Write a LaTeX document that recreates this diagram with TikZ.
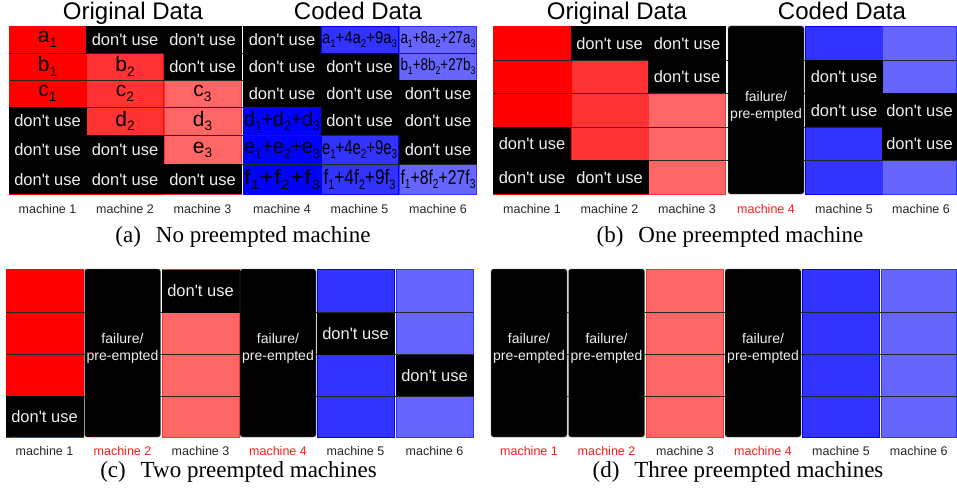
\documentclass[tikz,border=0pt]{standalone}
\usepackage{fontspec}
\setmainfont{Liberation Serif}
\setsansfont{Liberation Sans}
\usepackage{graphicx}
\usetikzlibrary{calc}

\definecolor{redA}{HTML}{FF0000}
\definecolor{redB}{HTML}{FF3333}
\definecolor{redC}{HTML}{FF6666}
\definecolor{blueA}{HTML}{0000FF}
\definecolor{blueB}{HTML}{3333FF}
\definecolor{blueC}{HTML}{6666FF}
\definecolor{offwhite}{HTML}{EEEEEE}
\definecolor{redlab}{HTML}{FF1A1A}

\newcommand{\sq}[2]{\resizebox{#1}{\height}{#2}}
\newcommand{\sbs}[1]{\raisebox{-0.22em}{\scalebox{0.65}{#1}}}
\newcommand{\dont}{don\textquotesingle t use}

\tikzset{
	colbox/.style={minimum width=77pt, minimum height=168pt, inner sep=0pt, line width=0.8pt},
	dontuse/.style={fill=black, text=offwhite, inner sep=0pt, minimum width=78pt, font=\fontsize{16.5}{18}\selectfont\sffamily},
	failbox/.style={fill=black, draw=black!55, rounded corners=2.5pt, minimum width=76pt, minimum height=168pt, inner sep=0pt},
	failtxt/.style={text=offwhite, align=center, inner sep=0pt, font=\fontsize{14}{17}\selectfont\sffamily},
	rowline/.style={draw=black!85, line width=0.7pt},
	datatxt/.style={inner sep=0pt, font=\fontsize{21}{24}\selectfont\sffamily},
	mlabel/.style={anchor=base, inner sep=0pt, font=\fontsize{12.5}{14}\selectfont\sffamily, text=black!85},
	headtxt/.style={anchor=base, inner sep=0pt, font=\fontsize{24}{28}\selectfont\sffamily},
	subcap/.style={anchor=base, inner sep=0pt, font=\fontsize{23}{27}\selectfont}
}

\begin{document}
\begin{tikzpicture}[x=1pt, y=-1pt]
	\useasboundingbox (0,0) rectangle (957,497);

	%(a) headings
	\node[headtxt] (a-orig) at (133,20) {Original Data};
	\node[headtxt] (a-code) at (358,20) {Coded Data};

	%(a) machine columns
	\node[colbox, fill=redA, draw=redA]   (a-m1) at (47.5,110) {};
	\node[colbox, fill=redB, draw=redA]   (a-m2) at (125,110) {};
	\node[colbox, fill=redC, draw=redB]   (a-m3) at (202.5,110) {};
	\node[colbox, fill=blueA, draw=blueA] (a-m4) at (282,110) {};
	\node[colbox, fill=blueB, draw=blueA] (a-m5) at (359.5,110) {};
	\node[colbox, fill=blueC, draw=blueB] (a-m6) at (438,110) {};

		%(a) row lines
		\foreach \y in {53,80,107,135,164.5}
			\draw[rowline] (9,\y) -- (477,\y);

	%(a) machine 1
	\node[datatxt] (a-m1-r1) at (47.5,39.5) {a\sbs{1}};
	\node[datatxt] (a-m1-r2) at (47.5,66.5) {b\sbs{1}};
	\node[datatxt] (a-m1-r3) at (47.5,93.5) {c\sbs{1}};
	\node[dontuse, minimum height=28pt]   (a-m1-r4) at (47.5,121)    {\dont};
	\node[dontuse, minimum height=29.5pt] (a-m1-r5) at (47.5,149.75) {\dont};
	\node[dontuse, minimum height=29.5pt] (a-m1-r6) at (47.5,179.25) {\dont};

	%(a) machine 2
	\node[dontuse, minimum height=27pt] (a-m2-r1) at (125,39.5) {\dont};
	\node[datatxt] (a-m2-r2) at (125,66.5) {b\sbs{2}};
	\node[datatxt] (a-m2-r3) at (125,93.5) {c\sbs{2}};
	\node[datatxt] (a-m2-r4) at (125,121)  {d\sbs{2}};
	\node[dontuse, minimum height=29.5pt] (a-m2-r5) at (125,149.75) {\dont};
	\node[dontuse, minimum height=29.5pt] (a-m2-r6) at (125,179.25) {\dont};

	%(a) machine 3
	\node[dontuse, minimum height=27pt] (a-m3-r1) at (202.5,39.5) {\dont};
	\node[dontuse, minimum height=27pt] (a-m3-r2) at (202.5,66.5) {\dont};
	\node[datatxt] (a-m3-r3) at (202.5,93.5)  {c\sbs{3}};
	\node[datatxt] (a-m3-r4) at (202.5,121)   {d\sbs{3}};
	\node[datatxt] (a-m3-r5) at (202.5,149.75) {e\sbs{3}};
	\node[dontuse, minimum height=29.5pt] (a-m3-r6) at (202.5,179.25) {\dont};

	%(a) machine 4
	\node[dontuse, minimum height=27pt] (a-m4-r1) at (282,39.5) {\dont};
	\node[dontuse, minimum height=27pt] (a-m4-r2) at (282,66.5) {\dont};
	\node[dontuse, minimum height=27pt] (a-m4-r3) at (282,93.5) {\dont};
	\node[datatxt] (a-m4-r4) at (282,121)    {\sq{76pt}{d\sbs{1}+d\sbs{2}+d\sbs{3}}};
	\node[datatxt] (a-m4-r5) at (282,149.75) {\sq{76pt}{e\sbs{1}+e\sbs{2}+e\sbs{3}}};
	\node[datatxt] (a-m4-r6) at (282,179.25) {\sq{76pt}{f\sbs{1}+f\sbs{2}+f\sbs{3}}};

	%(a) machine 5
	\node[datatxt, font=\fontsize{17}{19}\selectfont\sffamily] (a-m5-r1) at (359.5,39.5) {\sq{75pt}{a\sbs{1}+4a\sbs{2}+9a\sbs{3}}};
	\node[dontuse, minimum height=27pt] (a-m5-r2) at (359.5,66.5) {\dont};
	\node[dontuse, minimum height=27pt] (a-m5-r3) at (359.5,93.5) {\dont};
	\node[dontuse, minimum height=28pt] (a-m5-r4) at (359.5,121)  {\dont};
	\node[datatxt, font=\fontsize{20}{22}\selectfont\sffamily] (a-m5-r5) at (359.5,149.75) {\sq{75pt}{e\sbs{1}+4e\sbs{2}+9e\sbs{3}}};
	\node[datatxt, font=\fontsize{21}{23}\selectfont\sffamily] (a-m5-r6) at (359.5,179.25) {\sq{72pt}{f\sbs{1}+4f\sbs{2}+9f\sbs{3}}};

	%(a) machine 6
	\node[datatxt, font=\fontsize{17}{19}\selectfont\sffamily] (a-m6-r1) at (438,39.5) {\sq{75pt}{a\sbs{1}+8a\sbs{2}+27a\sbs{3}}};
	\node[datatxt, font=\fontsize{17}{19}\selectfont\sffamily] (a-m6-r2) at (438,66.5) {\sq{75pt}{b\sbs{1}+8b\sbs{2}+27b\sbs{3}}};
	\node[dontuse, minimum height=27pt]   (a-m6-r3) at (438,93.5)   {\dont};
	\node[dontuse, minimum height=28pt]   (a-m6-r4) at (438,121)    {\dont};
	\node[dontuse, minimum height=29.5pt] (a-m6-r5) at (438,149.75) {\dont};
	\node[datatxt, font=\fontsize{20}{22}\selectfont\sffamily] (a-m6-r6) at (438,179.25) {\sq{75pt}{f\sbs{1}+8f\sbs{2}+27f\sbs{3}}};

	%(a) labels
	\node[mlabel] (a-lab1) at (47.5,213)  {machine 1};
	\node[mlabel] (a-lab2) at (125,213)   {machine 2};
	\node[mlabel] (a-lab3) at (202.5,213) {machine 3};
	\node[mlabel] (a-lab4) at (282,213)   {machine 4};
	\node[mlabel] (a-lab5) at (359.5,213) {machine 5};
	\node[mlabel] (a-lab6) at (438,213)   {machine 6};
	\node[subcap] (a-cap) at (243,242) {(a)\hspace{0.65em}No preempted machine};

	%(b) headings
	\node[headtxt] (b-orig) at (617,20) {Original Data};
	\node[headtxt] (b-code) at (842,20) {Coded Data};

	%(b) machine columns
	\node[colbox, fill=redA, draw=redA, minimum height=167.5pt]   (b-m1) at (532,110.25) {};
	\node[colbox, fill=redB, draw=redA, minimum height=167.5pt]   (b-m2) at (609.5,110.25) {};
	\node[colbox, fill=redC, draw=redB, minimum height=167.5pt]   (b-m3) at (687,110.25) {};
	\node[colbox, fill=blueB, draw=blueA, minimum height=167.5pt] (b-m5) at (844,110.25) {};
	\node[colbox, fill=blueC, draw=blueB, minimum height=167.5pt, minimum width=73.5pt] (b-m6) at (919.5,110.25) {};

		%(b) row lines
		\foreach \y in {60,93.5,127,160.5}
			\draw[rowline] (493,\y) -- (956,\y);

	%(b) don't use cells
	\node[dontuse, minimum height=33.5pt] (b-m1-r4) at (532,143.75)   {\dont};
	\node[dontuse, minimum height=33.5pt] (b-m1-r5) at (532,177.25)   {\dont};
	\node[dontuse, minimum height=33.5pt] (b-m2-r1) at (609.5,43.25)  {\dont};
	\node[dontuse, minimum height=33.5pt] (b-m2-r5) at (609.5,177.25) {\dont};
	\node[dontuse, minimum height=33.5pt] (b-m3-r1) at (687,43.25)    {\dont};
	\node[dontuse, minimum height=33.5pt] (b-m3-r2) at (687,76.75)    {\dont};
	\node[dontuse, minimum height=33.5pt] (b-m5-r2) at (844,76.75)    {\dont};
	\node[dontuse, minimum height=33.5pt] (b-m5-r3) at (844,110.25)   {\dont};
	\node[dontuse, minimum height=33.5pt, minimum width=74.5pt] (b-m6-r3) at (919.5,110.25) {\dont};
	\node[dontuse, minimum height=33.5pt, minimum width=74.5pt] (b-m6-r4) at (919.5,143.75) {\dont};

	%(b) failed machine
	\node[failbox] (b-m4) at (766,110) {};
	\node[failtxt] (b-m4-txt) at ([yshift=4pt]b-m4.center) {failure/\\pre-empted};

	%(b) labels
	\node[mlabel] (b-lab1) at (532,213)   {machine 1};
	\node[mlabel] (b-lab2) at (609.5,213) {machine 2};
	\node[mlabel] (b-lab3) at (687,213)   {machine 3};
	\node[mlabel, text=redlab] (b-lab4) at (766,213) {machine 4};
	\node[mlabel] (b-lab5) at (844,213)   {machine 5};
	\node[mlabel] (b-lab6) at (921,213)   {machine 6};
	\node[subcap] (b-cap) at (730,242) {(b)\hspace{0.65em}One preempted machine};

	%(c) machine columns
	\node[colbox, fill=redA, draw=redA, minimum height=167.5pt]   (c-m1) at (44.5,353.25) {};
	\node[colbox, fill=redC, draw=redB, minimum height=167.5pt]   (c-m3) at (200.5,353.25) {};
	\node[colbox, fill=blueB, draw=blueA, minimum height=167.5pt] (c-m5) at (355.5,353.25) {};
	\node[colbox, fill=blueC, draw=blueB, minimum height=167.5pt] (c-m6) at (434.5,353.25) {};

		%(c) row lines
		\foreach \y in {312.5,354.5,396}
			\draw[rowline] (6,\y) -- (473,\y);

	%(c) don't use cells
	\node[dontuse, minimum height=41pt] (c-m1-r4) at (44.5,416.5)   {\dont};
	\node[dontuse, minimum height=43pt] (c-m3-r1) at (200.5,291)    {\dont};
	\node[dontuse, minimum height=42pt] (c-m5-r2) at (355.5,333.5)  {\dont};
	\node[dontuse, minimum height=41.5pt] (c-m6-r3) at (434.5,375.25) {\dont};

	%(c) failed machines
	\node[failbox] (c-m2) at (122.5,353) {};
	\node[failtxt] (c-m2-txt) at ([yshift=5pt]c-m2.center) {failure/\\pre-empted};
	\node[failbox] (c-m4) at (278,353) {};
	\node[failtxt] (c-m4-txt) at ([yshift=5pt]c-m4.center) {failure/\\pre-empted};

	%(c) labels
	\node[mlabel] (c-lab1) at (44.5,455)  {machine 1};
	\node[mlabel, text=redlab] (c-lab2) at (122.5,455) {machine 2};
	\node[mlabel] (c-lab3) at (200.5,455) {machine 3};
	\node[mlabel, text=redlab] (c-lab4) at (278,455) {machine 4};
	\node[mlabel] (c-lab5) at (355.5,455) {machine 5};
	\node[mlabel] (c-lab6) at (434.5,455) {machine 6};
	\node[subcap] (c-cap) at (238.5,477) {(c)\hspace{0.65em}Two preempted machines};

	%(d) machine columns
	\node[colbox, fill=redC, draw=redB, minimum height=167.5pt]   (d-m3) at (685,353.25) {};
	\node[colbox, fill=blueB, draw=blueA, minimum height=167.5pt] (d-m5) at (841,353.25) {};
	\node[colbox, fill=blueC, draw=blueB, minimum height=167.5pt, minimum width=75.5pt] (d-m6) at (918.75,353.25) {};

		%(d) row lines
		\foreach \y in {312.5,354.5,396}
			\draw[rowline] (491,\y) -- (956.5,\y);

	%(d) failed machines
	\node[failbox] (d-m1) at (529,353) {};
	\node[failtxt] (d-m1-txt) at ([yshift=5pt]d-m1.center) {failure/\\pre-empted};
	\node[failbox] (d-m2) at (606.5,353) {};
	\node[failtxt] (d-m2-txt) at ([yshift=5pt]d-m2.center) {failure/\\pre-empted};
	\node[failbox] (d-m4) at (763,353) {};
	\node[failtxt] (d-m4-txt) at ([yshift=5pt]d-m4.center) {failure/\\pre-empted};

	%(d) labels
	\node[mlabel, text=redlab] (d-lab1) at (529,455)   {machine 1};
	\node[mlabel, text=redlab] (d-lab2) at (606.5,455) {machine 2};
	\node[mlabel] (d-lab3) at (685,455)   {machine 3};
	\node[mlabel, text=redlab] (d-lab4) at (763,455) {machine 4};
	\node[mlabel] (d-lab5) at (841,455)   {machine 5};
	\node[mlabel] (d-lab6) at (918.75,455) {machine 6};
	\node[subcap] (d-cap) at (738,477) {(d)\hspace{0.65em}Three preempted machines};
\end{tikzpicture}
\end{document}
